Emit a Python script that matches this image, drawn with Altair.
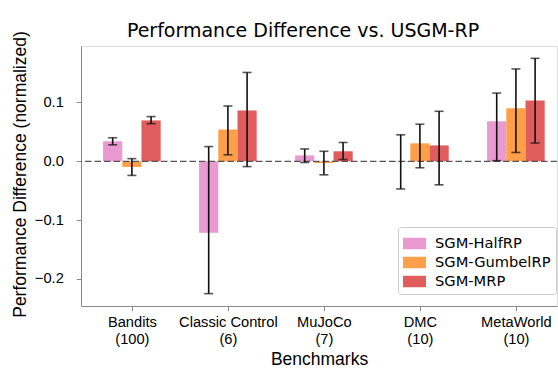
import altair as alt
import pandas as pd

benchmarks = ["Bandits", "Classic Control", "MuJoCo", "DMC", "MetaWorld"]
counts = ["(100)", "(6)", "(7)", "(10)", "(10)"]
methods = ["SGM-HalfRP", "SGM-GumbelRP", "SGM-MRP"]
colors = ["#EA99D1", "#FF9F4A", "#E05D5E"]

half_mean = [0.034, -0.1215, 0.010, -0.001, 0.068]
half_lo = [0.028, -0.225, -0.002, -0.047, 0.001]
half_hi = [0.040, 0.025, 0.021, 0.045, 0.116]

gumbel_mean = [-0.0096, 0.054, -0.003, 0.0305, 0.090]
gumbel_lo = [-0.024, 0.011, -0.023, -0.011, 0.015]
gumbel_hi = [0.0045, 0.094, 0.017, 0.063, 0.157]

mrp_mean = [0.0695, 0.0864, 0.017, 0.027, 0.1034]
mrp_lo = [0.064, -0.009, 0.003, -0.040, 0.031]
mrp_hi = [0.076, 0.151, 0.032, 0.085, 0.175]

y_ticks = [-0.2, -0.1, 0.0, 0.1]

rows = []
for m, (means, los, his) in enumerate([(half_mean, half_lo, half_hi),
                                       (gumbel_mean, gumbel_lo, gumbel_hi),
                                       (mrp_mean, mrp_lo, mrp_hi)]):
    for b in range(len(benchmarks)):
        rows.append({"b": b, "m": m, "method": methods[m],
                     "mean": means[b], "lo": los[b], "hi": his[b]})
df = pd.DataFrame(rows)

FONT = "DejaVu Sans"

label_expr = " : ".join(
    f"datum.value == {i} ? ['{n}', '{c}']" for i, (n, c) in enumerate(zip(benchmarks, counts))
) + " : ''"

xscale = alt.Scale(domain=[-0.53, 4.428], nice=False, zero=False)
xaxis = alt.Axis(values=list(range(len(benchmarks))), labelExpr=label_expr, title="Benchmarks",
                 grid=False, tickSize=4.7, labelPadding=4, labelFontSize=14.67,
                 labelLineHeight=17, titleFontSize=17.5, titleFontWeight="normal",
                 titleBaseline="alphabetic", titleY=58, labelFlush=False,
                 labelOverlap=False)
yscale = alt.Scale(domain=[-0.246, 0.196], nice=False, zero=False)
yaxis = alt.Axis(values=y_ticks, format=".1f", title="Performance Difference (normalized)",
                 grid=False, tickSize=4.7, labelPadding=13, labelFontSize=14.67,
                 titleFontSize=17.5, titleFontWeight="normal", titleBaseline="alphabetic",
                 titleAngle=270, titleX=-56, titleY=128)

base = alt.Chart(df).transform_calculate(
    xc="datum.b + (datum.m - 1) * 0.2",
    x1="datum.b + (datum.m - 1) * 0.2 - 0.1",
    x2="datum.b + (datum.m - 1) * 0.2 + 0.1",
    zero="0",
)

bars = base.mark_bar(opacity=1, strokeWidth=0).encode(
    x=alt.X("x1:Q", scale=xscale, axis=xaxis),
    x2="x2:Q",
    y=alt.Y("mean:Q", scale=yscale, axis=yaxis),
    y2="zero:Q",
    color=alt.Color("method:N", scale=alt.Scale(domain=methods, range=colors),
                    legend=alt.Legend(title=None, orient="none", legendX=317, legendY=181,
                                      padding=5, fillColor="rgba(255,255,255,0.8)",
                                      strokeColor="#cccccc", cornerRadius=3,
                                      labelFontSize=14.67, labelFont=FONT, labelColor="black",
                                      symbolType="M-1,-0.5H1V0.5H-1Z", symbolSize=529,
                                      symbolStrokeWidth=0, symbolOpacity=1,
                                      labelOffset=9, rowPadding=0)),
)

zero_line = alt.Chart(pd.DataFrame({"y": [0.0]})).mark_rule(
    color="#555555", strokeDash=[6.5, 3], strokeWidth=1.3
).encode(y=alt.Y("y:Q", scale=yscale, axis=yaxis))

errs = base.mark_errorbar(ticks=alt.MarkConfig(size=9), thickness=1.6, color="#111111").encode(
    x=alt.X("xc:Q", scale=xscale, axis=xaxis),
    y=alt.Y("lo:Q", scale=yscale, axis=yaxis),
    y2="hi:Q",
)

chart = alt.layer(bars, zero_line, errs).properties(
    width=476, height=260,
    title=alt.TitleParams("Performance Difference vs. USGM-RP", fontSize=19, font=FONT,
                          fontWeight="normal", color="black", dx=-16, offset=-25,
                          baseline="alphabetic"),
    padding={"left": 81, "top": 46, "right": 1, "bottom": 62},
    autosize=alt.AutoSizeParams(type="none"),
).configure_view(stroke=None).configure_axis(
    labelFont=FONT, titleFont=FONT, titleFontWeight="normal", labelColor="black",
    titleColor="black", domainColor="black", tickColor="black", domainWidth=1, tickWidth=1,
).configure(background="white")

chart.save("out.html", embed_options={"renderer": "svg", "actions": False})
